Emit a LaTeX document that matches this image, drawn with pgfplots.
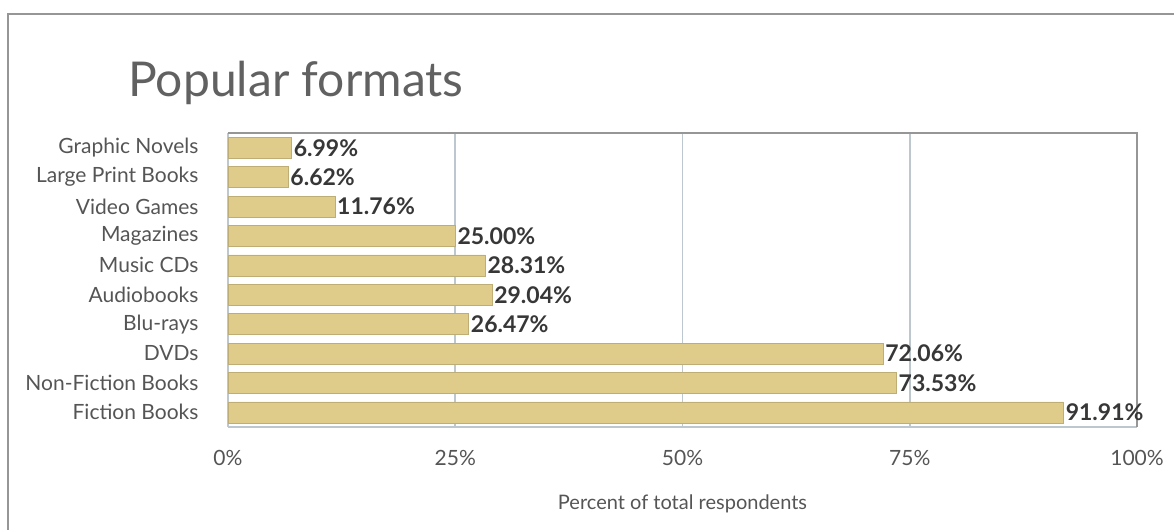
\documentclass[border=0pt]{standalone}
\usepackage{pgfplots}
\pgfplotsset{compat=1.18}
\usepackage{fontspec}
\setmainfont{Lato}

\definecolor{bartan}{RGB}{224,204,138}
\definecolor{gridc}{RGB}{188,200,206}
\definecolor{framec}{RGB}{150,150,150}
\definecolor{txt}{RGB}{85,85,85}
\definecolor{valc}{RGB}{55,55,55}

\begin{document}
\begin{tikzpicture}
% page frame (1px = 0.5bp)
\path[use as bounding box] (-114bp,-51.5bp) rectangle (473bp,213.5bp);
\draw[framec, line width=0.8bp] (-110bp,-51.5bp) -- (-110bp,206.5bp) -- (473bp,206.5bp);

\begin{axis}[
  at={(0,0)}, anchor=south west,
  scale only axis, width=454.5bp, height=147bp,
  xbar, bar width=10.5bp,
  xmin=0, xmax=100,
  ymin=-0.5, ymax=9.5, y dir=reverse,
  ytick=data,
  yticklabels={Graphic Novels,Large Print Books,Video Games,Magazines,Music CDs,Audiobooks,Blu-rays,DVDs,Non-Fiction Books,Fiction Books},
  xtick={0,25,50,75,100},
  xticklabels={0\%,25\%,50\%,75\%,100\%},
  /pgf/number format/assume math mode=true,
  tick style={draw=none},
  xticklabel style={font=\fontsize{10.5bp}{12bp}\selectfont, text=txt, yshift=-8bp},
  yticklabel style={font=\fontsize{10.5bp}{12bp}\selectfont, text=txt, xshift=-7bp},
  xlabel={Percent of total respondents},
  xlabel style={font=\fontsize{10bp}{12bp}\selectfont, text=txt, yshift=-8bp},
  xmajorgrids, major grid style={gridc, line width=0.8bp},
  axis line style={gridc, line width=0.8bp},
  axis x line*=bottom, axis y line*=left,
  clip=false,
  point meta=x,
  nodes near coords={\pgfmathprintnumber[fixed,fixed zerofill,precision=2]{\pgfplotspointmeta}\%},
  nodes near coords style={anchor=west, inner sep=1bp, font=\bfseries\fontsize{11.5bp}{12bp}\selectfont, text=valc},
]
\addplot[fill=bartan, draw=bartan!85!black, line width=0.3bp] coordinates {
  (6.99,0) (6.62,1) (11.76,2) (25.00,3) (28.31,4)
  (29.04,5) (26.47,6) (72.06,7) (73.53,8) (91.91,9)
};
\draw[framec, line width=0.8bp] (rel axis cs:0,1) -- (rel axis cs:1,1) -- (rel axis cs:1,0);
\end{axis}

\node[anchor=base west, inner sep=0, text=black!62, font=\fontsize{24bp}{28bp}\selectfont] at (-50bp,165bp) {Popular formats};
\end{tikzpicture}
\end{document}
